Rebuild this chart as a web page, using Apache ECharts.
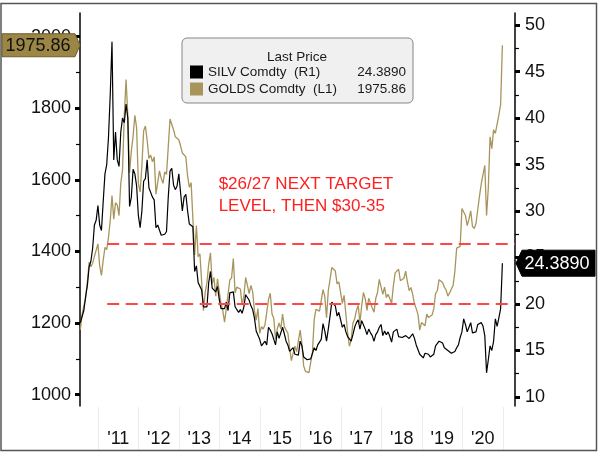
<!DOCTYPE html>
<html><head><meta charset="utf-8">
<script src="https://cdn.jsdelivr.net/npm/echarts@6/dist/echarts.min.js"></script>
<style>html,body{margin:0;padding:0;background:#fff}#c{width:600px;height:454px}</style>
</head><body><div id="c"></div>
<script>
// time grid: semi-monthly points starting Aug 1, 2010
const START = 2010.583;
const STEP = 1 / 24;
const X_MIN = 2010.575, X_MAX = 2020.882;

const GOLD_NAME = 'GOLDS Comdty  (L1)';
const SILV_NAME = 'SILV Comdty  (R1)';
const goldLast = '1975.86';
const silvLast = '24.3890';

const gold = [
  1181,1225,1248,1270,1315,1370,1357,1367,1386,1390,
  1421,1360,1333,1375,1411,1405,1439,1486,1556,1490,1536,1530,1500,1590,1628,1780,1880,1780,1620,1680,1722,1780,1746,1590,
  1566,1640,1737,1750,1711,1660,1669,1650,1664,1560,1559,1625,1604,1590,1622,1615,1692,1770,1775,1740,1720,1715,1712,1695,
  1675,1680,1664,1610,1579,1592,1596,1390,1472,1385,1393,1390,1234,1285,1313,1365,1396,1310,1327,1275,1323,1288,1253,1235,
  1202,1240,1240,1320,1326,1380,1284,1300,1296,1295,1250,1275,1327,1305,1282,1305,1287,1235,1208,1240,1171,1190,1183,1195,
  1199,1265,1283,1225,1213,1155,1183,1200,1184,1225,1190,1180,1172,1130,1095,1115,1135,1120,1115,1180,1142,1080,1065,1065,
  1061,1090,1118,1210,1238,1240,1233,1235,1293,1275,1215,1290,1322,1355,1355,1345,1309,1315,1316,1255,1277,1225,1173,1135,
  1152,1200,1211,1235,1249,1200,1249,1285,1268,1235,1269,1255,1242,1230,1269,1285,1322,1325,1280,1300,1271,1280,1275,1255,
  1303,1340,1345,1350,1318,1318,1325,1345,1315,1290,1299,1280,1253,1240,1224,1180,1201,1200,1192,1225,1215,1215,1222,1240,
  1282,1290,1321,1320,1313,1300,1292,1275,1284,1295,1305,1345,1409,1410,1414,1520,1520,1500,1472,1490,1513,1470,1464,1478,
  1517,1555,1589,1585,1640,1500,1577,1720,1687,1740,1730,1725,1781,1810,1975.86
];
const silver = [
  18.0,18.2,19.3,20.8,22.0,24.0,24.6,26.0,28.5,29.0,
  30.6,28.5,27.9,31.0,34.0,35.0,37.9,42.5,48.2,35.5,38.5,35.5,34.8,38.5,40.0,39.5,41.5,40.0,30.5,31.5,34.5,34.0,32.7,29.5,
  28.2,30.0,33.2,33.5,35.5,32.5,32.5,31.5,31.2,28.2,28.5,28.5,27.4,27.3,27.5,27.8,31.5,34.3,34.6,32.8,32.3,32.7,34.0,32.0,
  30.0,31.5,31.8,30.0,28.6,28.8,28.3,23.5,24.1,22.3,22.2,21.5,19.7,19.8,19.7,22.3,23.5,21.7,21.7,21.3,21.9,20.5,19.5,19.5,
  19.5,20.2,19.3,21.2,21.3,21.3,19.7,19.9,19.1,19.4,19.0,19.7,21.0,20.8,20.4,19.8,19.4,18.5,17.1,17.3,16.2,15.5,15.5,16.0,
  15.6,17.5,17.2,16.8,16.6,15.6,17.0,16.3,16.1,17.5,16.8,16.0,15.6,14.9,14.7,15.3,14.6,14.6,14.5,16.0,15.5,14.3,14.1,14.0,
  13.8,14.1,14.1,15.3,15.0,15.6,15.5,16.2,17.9,17.1,16.0,17.3,18.7,20.2,20.2,19.8,18.7,19.1,19.2,17.5,17.8,17.0,16.5,16.3,
  16.0,16.7,17.5,18.0,18.3,17.3,18.2,18.4,17.3,16.7,17.3,16.9,16.6,16.0,16.7,17.0,17.5,17.8,16.6,17.1,16.7,17.0,16.5,15.9,
  17.0,17.1,17.3,16.5,16.4,16.4,16.3,16.6,16.4,16.3,16.5,16.8,16.3,15.6,15.5,14.6,14.5,14.2,14.7,14.6,14.6,14.3,14.2,14.6,
  15.5,15.6,16.0,15.8,15.8,15.3,15.1,15.0,15.0,14.7,14.8,14.9,15.3,15.6,16.4,17.0,18.4,17.8,17.0,17.5,18.0,16.9,17.0,17.0,
  17.8,17.9,18.0,17.6,16.6,12.6,14.0,15.5,15.0,16.0,18.4,17.6,18.5,19.5,24.389
];

const goldTicks = [1000,1200,1400,1600,1800,2000];
const goldMinor = [1100,1300,1500,1700,1900];
const silverTicks = [10,15,20,25,30,35,40,45,50];
const silverMinor = [12.5,17.5,22.5,27.5,32.5,37.5,42.5,47.5];
const yearLabels = ["'11","'12","'13","'14","'15","'16","'17","'18","'19","'20"];
const silverTargets = [26.5, 20];
const TARGET_START = 2011.22;
const noteLines = ['$26/27 NEXT TARGET', 'LEVEL, THEN $30-35'];

const FONT = 'Liberation Sans';
const GOLD_C = '#a8955c';
const GOLD_TAG = '#9c8645';
const TXT = '#111';

const lastVal = {}; lastVal[GOLD_NAME] = goldLast; lastVal[SILV_NAME] = silvLast;

const chart = echarts.init(document.getElementById('c'), null, {renderer: 'canvas'});

const valAxisBase = {
  type: 'value', gridIndex: 0, splitLine: {show: false}
};
const plain = v => String(v);

chart.setOption({
  animation: false,
  backgroundColor: '#fff',
  grid: [
    {left: 80, right: 85, top: 13, bottom: 48, containLabel: false, outerBoundsMode: 'none'},
    {left: 98, width: 405, top: 407, height: 43, containLabel: false, outerBoundsMode: 'none'}
  ],
  xAxis: [
    {type: 'value', gridIndex: 0, min: X_MIN, max: X_MAX, show: false},
    {type: 'category', gridIndex: 1, data: yearLabels, boundaryGap: true, position: 'bottom',
     axisLine: {show: false}, axisTick: {show: false},
     splitLine: {show: true, interval: 0, lineStyle: {color: '#ececec', width: 1}},
     axisLabel: {interval: 0, inside: true, margin: 2, fontSize: 18, color: TXT, fontFamily: FONT}}
  ],
  yAxis: [
    Object.assign({}, valAxisBase, {position: 'left', min: 968, max: 2066,
      axisLine: {show: true, lineStyle: {color: '#000', width: 1.5}},
      axisTick: {show: true, customValues: goldTicks, length: 5, lineStyle: {color: '#000', width: 3}},
      axisLabel: {customValues: goldTicks, formatter: plain, margin: 9, fontSize: 18, color: TXT, fontFamily: FONT}}),
    Object.assign({}, valAxisBase, {position: 'right', min: 9.03, max: 51.3,
      axisLine: {show: true, lineStyle: {color: '#000', width: 1.5}},
      axisTick: {show: true, customValues: silverTicks, length: 5, lineStyle: {color: '#000', width: 3}},
      axisLabel: {customValues: silverTicks, formatter: plain, margin: 10, fontSize: 18, color: TXT, fontFamily: FONT}}),
    Object.assign({}, valAxisBase, {position: 'left', min: 968, max: 2066,
      axisLine: {show: false}, axisLabel: {show: false},
      axisTick: {show: true, customValues: goldMinor, length: 4, lineStyle: {color: '#000', width: 1.2}}}),
    Object.assign({}, valAxisBase, {position: 'right', min: 9.03, max: 51.3,
      axisLine: {show: false}, axisLabel: {show: false},
      axisTick: {show: true, customValues: silverMinor, length: 4, lineStyle: {color: '#000', width: 1.2}}}),
    {type: 'value', gridIndex: 1, show: false}
  ],
  legend: {
    data: [{name: SILV_NAME, icon: 'rect'}, {name: GOLD_NAME, icon: 'rect'}],
    orient: 'vertical', left: 182, top: 38,
    padding: [27, 7, 7, 8], itemWidth: 13, itemHeight: 13, itemGap: 3,
    backgroundColor: '#f0f0f0', borderColor: '#858585', borderWidth: 1, borderRadius: 5,
    selectedMode: false,
    formatter: n => '{a|' + n + '}{b|' + lastVal[n] + '}',
    textStyle: {
      fontSize: 13.5, color: '#1a1a1a', fontFamily: FONT,
      rich: {
        a: {width: 150, fontSize: 13.5, lineHeight: 15, fontFamily: FONT, color: '#1a1a1a'},
        b: {width: 48, align: 'right', fontSize: 13.5, lineHeight: 15, fontFamily: FONT, color: '#1a1a1a'}
      }
    }
  },
  series: [
    {name: GOLD_NAME, type: 'line', xAxisIndex: 0, yAxisIndex: 0, color: GOLD_C,
     data: gold.map((v, i) => [START + i * STEP, v]),
     showSymbol: false, symbol: 'none', lineStyle: {color: GOLD_C, width: 1.3}},
    {name: SILV_NAME, type: 'line', xAxisIndex: 0, yAxisIndex: 1, color: '#000',
     data: silver.map((v, i) => [START + i * STEP, v]),
     showSymbol: false, symbol: 'none', lineStyle: {color: '#000', width: 1.2},
     markLine: {
       silent: true, symbol: ['none', 'none'], label: {show: false},
       lineStyle: {type: [12, 6.5], color: '#ff4545', width: 2},
       data: silverTargets.map(v => [{coord: [TARGET_START, v]}, {coord: [X_MAX, v]}])
     }}
  ]
});

// tags and annotations, positioned from the axes
const gy = chart.convertToPixel({yAxisIndex: 0}, gold[gold.length - 1]);
const sy = chart.convertToPixel({yAxisIndex: 1}, silver[silver.length - 1]);
const axL = chart.convertToPixel({xAxisIndex: 0}, X_MIN);
const axR = chart.convertToPixel({xAxisIndex: 0}, X_MAX);
const noteX = chart.convertToPixel({xAxisIndex: 0}, 2013.86);

chart.setOption({
  graphic: [
    {type: 'rect', z: 100, silent: true,
     shape: {x: 1, y: 3.5, width: 595.5, height: 447},
     style: {fill: 'none', stroke: '#555', lineWidth: 1.5}},
    {type: 'text', z: 100, silent: true, x: 297, y: 57,
     style: {text: 'Last Price', font: '13.5px "' + FONT + '"', fill: '#1a1a1a', align: 'center', verticalAlign: 'middle'}},
    {type: 'text', z: 100, silent: true, x: noteX, y: 195,
     style: {text: noteLines.join('\n'), font: '17px "' + FONT + '"', fill: '#ff2020', align: 'left', verticalAlign: 'middle', lineHeight: 22}},
    {type: 'polygon', z: 100, silent: true,
     shape: {points: [[2, gy - 11.5], [75, gy - 11.5], [axL, gy], [75, gy + 11.5], [2, gy + 11.5]]},
     style: {fill: GOLD_TAG, stroke: '#6e5e2c', lineWidth: 1}},
    {type: 'text', z: 101, silent: true, x: 38, y: gy + 0.5,
     style: {text: goldLast, font: '18px "' + FONT + '"', fill: '#111', align: 'center', verticalAlign: 'middle'}},
    {type: 'polygon', z: 100, silent: true,
     shape: {points: [[axR + 1, sy], [axR + 7, sy - 13], [595, sy - 13], [595, sy + 13], [axR + 7, sy + 13]]},
     style: {fill: '#000', stroke: '#000', lineWidth: 1}},
    {type: 'text', z: 101, silent: true, x: 557, y: sy + 0.5,
     style: {text: silvLast, font: '18px "' + FONT + '"', fill: '#fff', align: 'center', verticalAlign: 'middle'}}
  ]
});
</script>
</body></html>
